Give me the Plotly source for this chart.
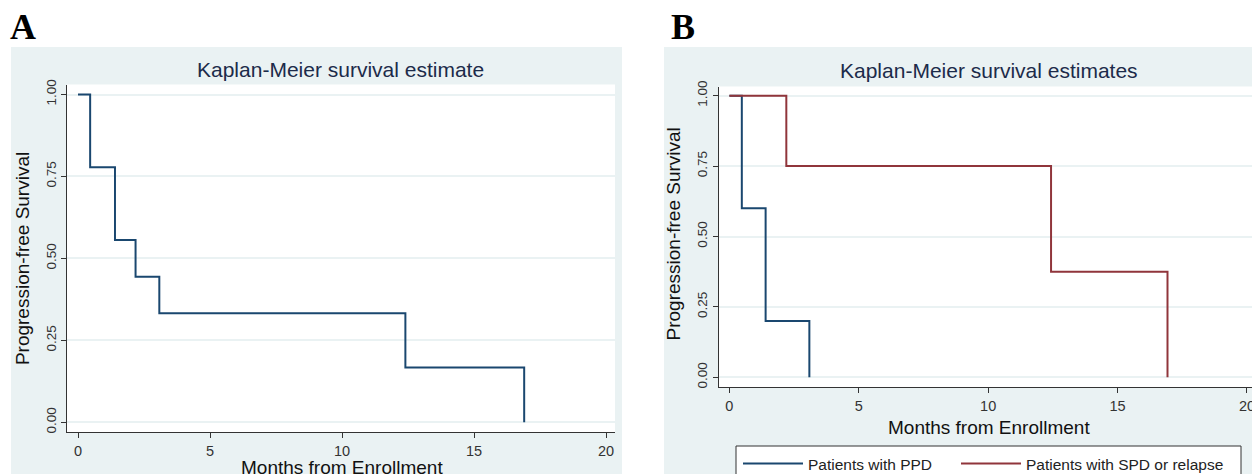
import plotly.graph_objects as go

W, H = 1260, 474
OFF = 8  # page body margin in the browser: figure starts 8px right/down

# ---- data ----
a_months = [0, 0.46, 1.40, 2.18, 3.08, 12.40, 16.90]
a_surv = [1.0, 0.778, 0.556, 0.444, 0.333, 0.167, 0.0]

ppd_months = [0, 0.48, 1.40, 3.09]
ppd_surv = [1.0, 0.6, 0.2, 0.0]

spd_months = [0, 2.20, 12.43, 16.93]
spd_surv = [1.0, 0.75, 0.375, 0.0]

x_ticks = [0, 5, 10, 15, 20]
y_ticks = [0, 0.25, 0.5, 0.75, 1.0]

BLUE = "#1a476f"
RED = "#90353b"
STATA_BG = "#EAF2F3"
SANS = "Liberation Sans, Arial, sans-serif"
SERIF = "Liberation Serif, Times New Roman, serif"


def px(x):
    return (x - OFF) / W


def py(y):
    return 1 - (y - OFF) / H


fig = go.Figure()

fig.add_trace(go.Scatter(x=a_months, y=a_surv, mode="lines", line=dict(color=BLUE, width=2, shape="hv"),
                         xaxis="x", yaxis="y", showlegend=False, hoverinfo="skip"))
fig.add_trace(go.Scatter(x=ppd_months, y=ppd_surv, mode="lines", line=dict(color=BLUE, width=2, shape="hv"),
                         xaxis="x2", yaxis="y2", name="Patients with PPD", legend="legend", hoverinfo="skip"))
fig.add_trace(go.Scatter(x=spd_months, y=spd_surv, mode="lines", line=dict(color=RED, width=2, shape="hv"),
                         xaxis="x2", yaxis="y2", name="Patients with SPD or relapse", legend="legend2",
                         hoverinfo="skip"))

xcommon = dict(tickvals=x_ticks, ticks="outside", ticklen=5, tickcolor="#333", tickwidth=1,
               showline=True, linecolor="#333", linewidth=1, showgrid=False, zeroline=False,
               automargin=False, tickfont=dict(family=SANS, size=14.5, color="#333"), fixedrange=True)
ycommon = dict(tickvals=y_ticks, tickformat=".2f", ticks="outside", ticklen=5, tickcolor="#333", tickwidth=1,
               showline=True, linecolor="#333", linewidth=1, showgrid=True, gridcolor=STATA_BG, gridwidth=1.5,
               zeroline=False, automargin=False, tickangle=-90,
               tickfont=dict(family=SANS, size=13.5, color="#333"), fixedrange=True)

legend_common = dict(orientation="h", xanchor="left", yanchor="top", bgcolor="rgba(0,0,0,0)",
                     borderwidth=0, font=dict(family=SANS, size=15.5, color="#222"), itemwidth=60)

fig.update_layout(
    width=W, height=H, autosize=False,
    margin=dict(l=0, r=0, t=0, b=0, pad=0, autoexpand=False),
    paper_bgcolor="white", plot_bgcolor="white",
    xaxis=dict(domain=[px(67), px(615)], range=[-0.417, 20.34], anchor="y", **xcommon),
    yaxis=dict(domain=[py(432.3), py(84.5)], range=[-0.0305, 1.0305], anchor="x", **ycommon),
    xaxis2=dict(domain=[px(718.5), px(1256)], range=[-0.421, 20.35], anchor="y2", **xcommon),
    yaxis2=dict(domain=[py(387.3), py(86.5)], range=[-0.0355, 1.0327], anchor="x2", **ycommon),
    legend=dict(x=px(738), y=py(447), **legend_common),
    legend2=dict(x=px(956), y=py(447), **legend_common),
    shapes=[
        # Stata-style light background panels
        dict(type="rect", xref="paper", yref="paper", x0=px(11), x1=px(622), y0=py(490), y1=py(47),
             fillcolor=STATA_BG, line=dict(width=0), layer="below"),
        dict(type="rect", xref="paper", yref="paper", x0=px(664), x1=px(1270), y0=py(490), y1=py(47),
             fillcolor=STATA_BG, line=dict(width=0), layer="below"),
        # legend frame
        dict(type="rect", xref="paper", yref="paper", x0=px(736), x1=px(1241), y0=py(490), y1=py(446),
             fillcolor="white", line=dict(width=1, color="#333"), layer="below"),
        # white plot regions
        dict(type="rect", xref="x domain", yref="y domain", x0=0, x1=1, y0=0, y1=1,
             fillcolor="white", line=dict(width=0), layer="below"),
        dict(type="rect", xref="x2 domain", yref="y2 domain", x0=0, x1=1, y0=0, y1=1,
             fillcolor="white", line=dict(width=0), layer="below"),
    ],
)

ann = []
# panel letters
ann.append(dict(text="<b>A</b>", x=px(8), y=py(26.5), xanchor="left", yanchor="middle",
                font=dict(family=SERIF, size=36, color="black")))
ann.append(dict(text="<b>B</b>", x=px(669), y=py(26.5), xanchor="left", yanchor="middle",
                font=dict(family=SERIF, size=36, color="black")))
# titles
ann.append(dict(text="Kaplan-Meier survival estimate", x=px(340), y=py(69.2), xanchor="center", yanchor="middle",
                font=dict(family=SANS, size=21, color="#1c2b4a")))
ann.append(dict(text="Kaplan-Meier survival estimates", x=px(989), y=py(70.5), xanchor="center", yanchor="middle",
                font=dict(family=SANS, size=21, color="#1c2b4a")))
# axis titles
ann.append(dict(text="Months from Enrollment", x=px(342), y=py(467), xanchor="center", yanchor="middle",
                font=dict(family=SANS, size=19, color="#111")))
ann.append(dict(text="Months from Enrollment", x=px(989), y=py(427), xanchor="center", yanchor="middle",
                font=dict(family=SANS, size=19, color="#111")))
ann.append(dict(text="Progression-free Survival", x=px(22.8), y=py(258.3), xanchor="center", yanchor="middle",
                textangle=-90, font=dict(family=SANS, size=19, color="#111")))
ann.append(dict(text="Progression-free Survival", x=px(673), y=py(234.5), xanchor="center", yanchor="middle",
                textangle=-90, font=dict(family=SANS, size=19, color="#111")))

for a in ann:
    a.update(xref="paper", yref="paper", showarrow=False)
fig.update_layout(annotations=ann)

fig.write_html("out.html")
